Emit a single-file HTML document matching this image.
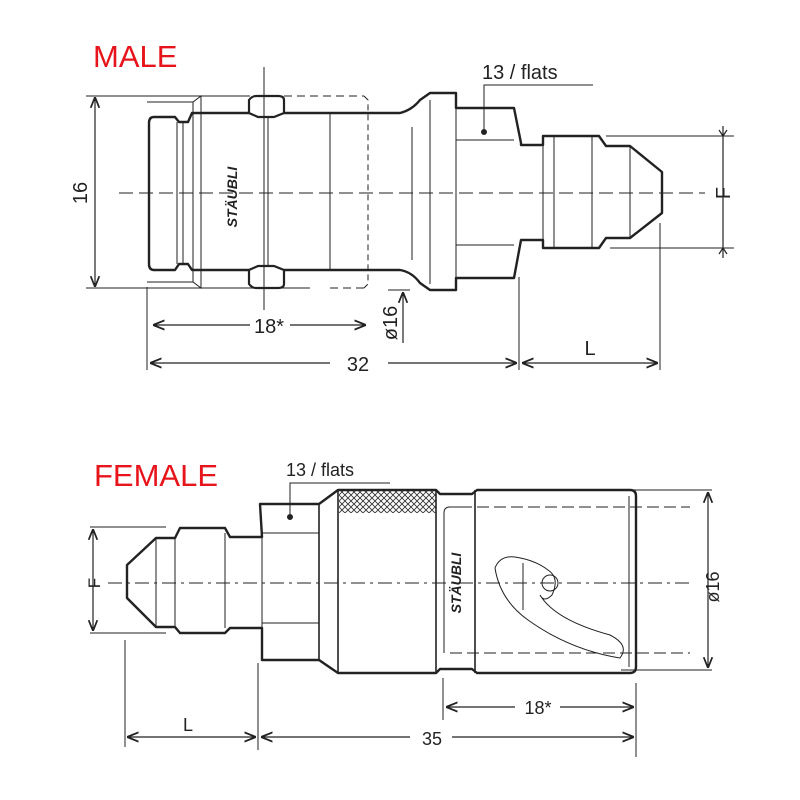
<!DOCTYPE html>
<html><head><meta charset="utf-8"><style>
html,body{margin:0;padding:0;background:#fff;width:800px;height:800px;overflow:hidden}
svg{display:block}
text{font-family:"Liberation Sans",sans-serif;fill:#222}
</style></head><body>
<svg width="800" height="800" viewBox="0 0 800 800" xmlns="http://www.w3.org/2000/svg">
<defs>
<marker id="a" viewBox="0 0 10 10" refX="10" refY="5" markerWidth="9" markerHeight="9" orient="auto-start-reverse"><path d="M0,1 L10,5 L0,9" fill="none" stroke="#222" stroke-width="1.6"/></marker>
<pattern id="k" width="6" height="6" patternUnits="userSpaceOnUse"><path d="M0,0L6,6M6,0L0,6" stroke="#333" stroke-width="0.9"/></pattern>
</defs>
<text x="93" y="67" font-size="31" style="fill:#e8141b">MALE</text>
<text x="94" y="486" font-size="31" style="fill:#e8141b">FEMALE</text>

<g fill="none" stroke="#222">
<!-- MALE -->
<line x1="119" y1="193" x2="705" y2="193" stroke-width="1" stroke-dasharray="14,6"/>
<line x1="86" y1="96" x2="250" y2="96" stroke-width="1"/>
<line x1="284" y1="96" x2="364" y2="96" stroke-width="1" stroke-dasharray="8,5"/>
<line x1="86" y1="288" x2="310" y2="288" stroke-width="1"/>
<line x1="330" y1="288" x2="364" y2="288" stroke-width="1" stroke-dasharray="8,5"/>
<line x1="95" y1="97" x2="95" y2="287" stroke-width="1.2" marker-start="url(#a)" marker-end="url(#a)"/>
<path d="M147,102 H193 L201,96 V288 L193,282 H147" stroke-width="1"/>
<line x1="193" y1="102" x2="193" y2="282" stroke-width="1"/>
<path d="M364,96 L368,100 V284 L364,288" stroke-width="1" stroke-dasharray="6,4"/>
<path d="M154,117 H175 L179,122 H188 L192,113 H249 M284,113 H400 Q412,110 420,100 L430,93 H456 V108 H514 L521,143 V145 H543 V136 H599 L606,146 H630 L662,172 V213 L630,238 H606 L599,248 H543 V240 H521 L514,278 H456 V290 H430 L420,283 Q412,272 400,270 H284 M249,270 H192 L188,264 H179 L175,270 H154 Q149,270 149,264 V123 Q149,117 154,117" stroke-width="2.4" stroke-linejoin="round"/>
<line x1="177" y1="122" x2="177" y2="264" stroke-width="1"/>
<line x1="183" y1="122" x2="183" y2="264" stroke-width="1"/>
<path d="M249,113 V100 Q252,96 256,96 H278 Q284,96 284,100 V113 L274,117 H258 Z" stroke-width="2.2"/>
<path d="M249,270 V284 Q252,288 256,288 H278 Q284,288 284,284 V270 L274,266 H258 Z" stroke-width="2.2"/>
<line x1="264" y1="67" x2="264" y2="310" stroke-width="1"/>
<line x1="268" y1="117" x2="268" y2="266" stroke-width="1"/>
<line x1="330" y1="113" x2="330" y2="270" stroke-width="1"/>
<line x1="412" y1="127" x2="412" y2="260" stroke-width="1"/>
<line x1="430" y1="100" x2="430" y2="284" stroke-width="1"/>
<line x1="456" y1="108" x2="456" y2="278" stroke-width="1"/>
<line x1="456" y1="140" x2="514" y2="140" stroke-width="1"/>
<line x1="456" y1="245" x2="514" y2="245" stroke-width="1"/>
<line x1="543" y1="145" x2="543" y2="240" stroke-width="1"/>
<line x1="554" y1="136" x2="554" y2="248" stroke-width="1"/>
<line x1="592" y1="136" x2="592" y2="248" stroke-width="1"/>
<line x1="630" y1="146" x2="630" y2="238" stroke-width="1"/>
<line x1="606" y1="136" x2="734" y2="136" stroke-width="1"/>
<line x1="610" y1="248" x2="734" y2="248" stroke-width="1"/>
<line x1="723" y1="126" x2="723" y2="258" stroke-width="1.2"/>
<path d="M719,130 L723,136 L727,130 M719,254 L723,248 L727,254" stroke-width="1.2"/>
<path d="M593,85 H484 V132" stroke-width="1"/>
<circle cx="484" cy="132" r="2.5" fill="#222"/>
<line x1="147" y1="287" x2="147" y2="370" stroke-width="1"/>
<line x1="519" y1="277" x2="519" y2="370" stroke-width="1"/>
<line x1="660" y1="223" x2="660" y2="370" stroke-width="1"/>
<line x1="153" y1="325" x2="250" y2="325" stroke-width="1.3" marker-start="url(#a)"/>
<line x1="290" y1="325" x2="366" y2="325" stroke-width="1.3" marker-end="url(#a)"/>
<line x1="150" y1="363" x2="330" y2="363" stroke-width="1.3" marker-start="url(#a)"/>
<line x1="388" y1="363" x2="517" y2="363" stroke-width="1.3" marker-end="url(#a)"/>
<line x1="522" y1="363" x2="658" y2="363" stroke-width="1.3" marker-start="url(#a)" marker-end="url(#a)"/>
<line x1="388" y1="290" x2="410" y2="290" stroke-width="1"/>
<line x1="403" y1="343" x2="403" y2="292" stroke-width="1.2" marker-end="url(#a)"/>

<!-- FEMALE -->
<line x1="108" y1="583" x2="690" y2="583" stroke-width="1" stroke-dasharray="14,5,3,5"/>
<path d="M127,565 L156,538 H175 L180,528 H225 L230,537 H262 L260,504 H319 L338,490 H436 L440,494 H472 L477,490 H630 Q636,490 636,496 V667 Q636,673 630,673 H477 L472,669 H440 L436,673 H338 L319,660 H262 V628 H230 L225,633 H180 L175,627 H156 L127,598 Z" stroke-width="2.4" stroke-linejoin="round"/>
<rect x="339" y="491" width="97" height="22" fill="url(#k)" stroke="none"/>
<line x1="156" y1="538" x2="156" y2="627" stroke-width="1"/>
<line x1="175" y1="538" x2="175" y2="627" stroke-width="1"/>
<line x1="225" y1="533" x2="225" y2="628" stroke-width="1"/>
<line x1="262" y1="537" x2="262" y2="628" stroke-width="1"/>
<line x1="262" y1="533" x2="319" y2="533" stroke-width="1"/>
<line x1="262" y1="623" x2="319" y2="623" stroke-width="1"/>
<line x1="319" y1="504" x2="319" y2="660" stroke-width="1.6"/>
<line x1="338" y1="490" x2="338" y2="673" stroke-width="1.6"/>
<line x1="436" y1="490" x2="436" y2="673" stroke-width="1.6"/>
<line x1="475" y1="490" x2="475" y2="673" stroke-width="1.6"/>
<line x1="629" y1="496" x2="629" y2="667" stroke-width="1"/>
<path d="M444,653 V513 Q444,507 450,507 H460" stroke-width="1"/>
<path d="M450,653 H690 M460,507 H690" stroke-width="1" stroke-dasharray="12,5"/>
<path d="M495,568 Q500,555 515,557 Q535,560 548,570 Q560,578 552,595 Q544,603 540,595 Q555,620 610,635 Q630,645 620,658 Q570,650 528,620 Q500,600 495,568 Z" stroke-width="1"/>
<circle cx="550" cy="583" r="8" stroke-width="1"/>
<line x1="523" y1="563" x2="523" y2="610" stroke-width="1"/>
<line x1="621" y1="490" x2="712" y2="490" stroke-width="1"/>
<line x1="621" y1="670" x2="712" y2="670" stroke-width="1"/>
<line x1="708" y1="492" x2="708" y2="668" stroke-width="1.2" marker-start="url(#a)" marker-end="url(#a)"/>
<line x1="90" y1="527" x2="166" y2="527" stroke-width="1"/>
<line x1="90" y1="633" x2="166" y2="633" stroke-width="1"/>
<line x1="93" y1="529" x2="93" y2="631" stroke-width="1.2" marker-start="url(#a)" marker-end="url(#a)"/>
<path d="M390,483 H290 V517" stroke-width="1"/>
<circle cx="290" cy="517" r="2.5" fill="#222"/>
<line x1="125" y1="640" x2="125" y2="747" stroke-width="1"/>
<line x1="258" y1="663" x2="258" y2="750" stroke-width="1"/>
<line x1="443" y1="678" x2="443" y2="720" stroke-width="1"/>
<line x1="636" y1="683" x2="636" y2="757" stroke-width="1"/>
<line x1="127" y1="737" x2="256" y2="737" stroke-width="1.3" marker-start="url(#a)" marker-end="url(#a)"/>
<line x1="261" y1="737" x2="410" y2="737" stroke-width="1.3" marker-start="url(#a)"/>
<line x1="452" y1="737" x2="634" y2="737" stroke-width="1.3" marker-end="url(#a)"/>
<line x1="446" y1="707" x2="515" y2="707" stroke-width="1.3" marker-start="url(#a)"/>
<line x1="560" y1="707" x2="634" y2="707" stroke-width="1.3" marker-end="url(#a)"/>
</g>

<g font-size="20">
<text x="80" y="193" text-anchor="middle" transform="rotate(-90 80 193)" dy="7">16</text>
<text x="723" y="193" text-anchor="middle" transform="rotate(-90 723 193)" dy="7">F</text>
<text x="482" y="79">13 / flats</text>
<text x="269" y="333" text-anchor="middle">18*</text>
<text x="358" y="371" text-anchor="middle">32</text>
<text x="590" y="355" text-anchor="middle">L</text>
<text x="390" y="323" text-anchor="middle" transform="rotate(-90 390 323)" dy="7">ø16</text>
<text x="93" y="583" text-anchor="middle" transform="rotate(-90 93 583)" dy="7" font-size="17">F</text>
<text x="286" y="476" font-size="18">13 / flats</text>
<text x="708" y="583" text-anchor="middle" transform="rotate(-90 712 583)" dy="7" font-size="18">ø16</text>
<text x="538" y="714" text-anchor="middle" font-size="18">18*</text>
<text x="432" y="745" text-anchor="middle" font-size="18">35</text>
<text x="188" y="731" text-anchor="middle" font-size="18">L</text>
</g>
<text x="232" y="197" font-size="14" font-weight="bold" font-style="italic" text-anchor="middle" transform="rotate(-90 232 197)" dy="5">STÄUBLI</text>
<text x="456" y="583" font-size="14" font-weight="bold" font-style="italic" text-anchor="middle" transform="rotate(-90 456 583)" dy="5">STÄUBLI</text>
</svg>
</body></html>
